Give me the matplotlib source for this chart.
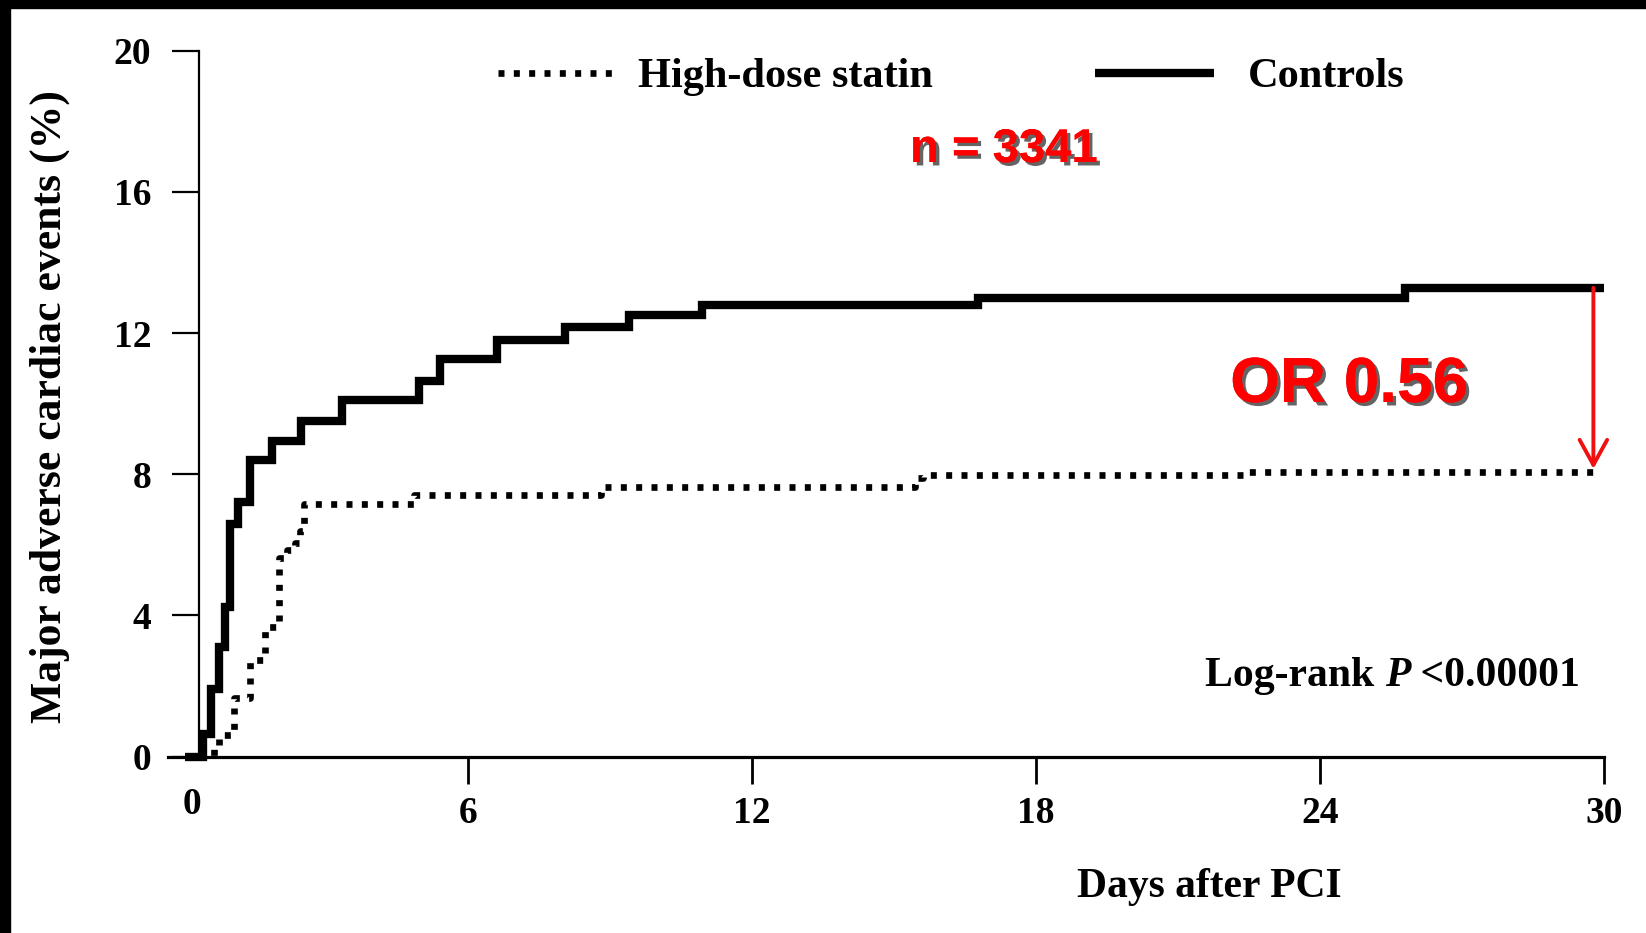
import matplotlib
matplotlib.use("Agg")
import matplotlib.pyplot as plt
from matplotlib.patches import Rectangle
import matplotlib.patheffects as pe

# ---------------- data ----------------
x_ticks = [6, 12, 18, 24, 30]
x_tick_labels = ["6", "12", "18", "24", "30"]
y_ticks = [0, 4, 8, 12, 16, 20]
y_tick_labels = ["0", "4", "8", "12", "16", "20"]

control_days = [0, 0.40, 0.55, 0.72, 0.86, 0.97, 1.14, 1.39, 1.85, 2.47, 3.33,
                4.95, 5.40, 6.60, 8.04, 9.39, 10.93, 16.78, 25.79, 30.0]
control_mace = [0, 0.64, 1.9, 3.1, 4.25, 6.6, 7.22, 8.4, 8.95, 9.5, 10.1,
                10.65, 11.25, 11.8, 12.16, 12.5, 12.8, 13.0, 13.28, 13.28]

statin_days = [0, 0.62, 0.72, 1.04, 1.39, 1.71, 1.99, 2.17, 2.34, 2.45, 2.52,
               4.86, 8.81, 15.44, 15.60, 22.5, 29.8]
statin_mace = [0, 0.25, 0.6, 1.67, 2.74, 3.66, 5.62, 5.86, 6.06, 6.4, 7.15,
               7.42, 7.65, 7.88, 7.98, 8.05, 8.05]

series_labels = ["High-dose statin", "Controls"]
n_text = "n = 3341"
or_text = "OR 0.56"
arrow_day = 29.78
arrow_from = 13.28
arrow_to = 8.15

W, H = 1646, 933
SERIF = "Liberation Serif"
SANS = "Liberation Sans"

fig = plt.figure(figsize=(W / 100, H / 100), dpi=100)
fig.patch.set_facecolor("white")

# black frame bands of the screenshot
fig.add_artist(Rectangle((0, 1 - 8 / H), 1, 8 / H, transform=fig.transFigure,
                         color="black", zorder=0))
fig.add_artist(Rectangle((0, 0), 10 / W, 1, transform=fig.transFigure,
                         color="black", zorder=0))

ax = fig.add_axes([168 / W, (H - 756.5) / H, (1603.8 - 168) / W, (756.5 - 50.7) / H])
ax.set_xlim(-0.35, 30)
ax.set_ylim(0, 20)
ax.patch.set_alpha(0)

lc, = ax.step(control_days, control_mace, where="post", color="black", lw=6.0,
              solid_capstyle="butt", solid_joinstyle="miter", clip_on=False,
              label=series_labels[1], zorder=3)
ls, = ax.step(statin_days, statin_mace, where="post", color="black", lw=4.8,
              dash_capstyle="butt", clip_on=False, label=series_labels[0], zorder=3)
ls.set_dashes((0.9, 1.4))

# spines
ax.spines["top"].set_visible(False)
ax.spines["right"].set_visible(False)
ax.spines["left"].set_position(("data", 0.31))
ax.spines["left"].set_bounds(0, 20)
ax.spines["left"].set_linewidth(1.6)
ax.spines["bottom"].set_linewidth(2.3)

ax.set_xticks(x_ticks)
ax.set_xticklabels(x_tick_labels)
ax.set_yticks(y_ticks)
ax.set_yticklabels(y_tick_labels)
ax.tick_params(axis="y", direction="out", length=19.5, width=1.6, pad=15,
               labelsize=27)
ax.tick_params(axis="x", direction="out", length=19.5, width=2, pad=9,
               labelsize=27)
for lab in ax.get_xticklabels() + ax.get_yticklabels():
    lab.set_family(SERIF)
    lab.set_fontweight("bold")

# "0" label at origin (sits slightly higher in the original)
fig.text(192 / W, 1 - 804 / H, "0", ha="center", va="center", fontsize=27,
         family=SERIF, weight="bold")

# axis labels
fig.text(50 / W, 1 - 407 / H, "Major adverse cardiac events (%)", rotation=90,
         ha="center", va="center", fontsize=31.5, family=SERIF, weight="bold")
fig.text(1209 / W, 1 - 887 / H, "Days after PCI", ha="center", va="center",
         fontsize=30, family=SERIF, weight="bold")

# legend (two entries placed separately)
legprop = {"family": SERIF, "weight": "bold", "size": 30.5}
leg1 = ax.legend(handles=[ls], labels=[series_labels[0]], loc="center left",
                 bbox_to_anchor=(498 / W, 1 - 77 / H), bbox_transform=fig.transFigure,
                 frameon=False, borderpad=0, borderaxespad=0, handlelength=2.75,
                 handletextpad=0.55, prop=legprop)
ax.add_artist(leg1)
leg2 = ax.legend(handles=[lc], labels=[series_labels[1]], loc="center left",
                 bbox_to_anchor=(1095 / W, 1 - 77 / H), bbox_transform=fig.transFigure,
                 frameon=False, borderpad=0, borderaxespad=0, handlelength=2.8,
                 handletextpad=0.8, prop=legprop)

# log-rank text
t1 = fig.text(1205 / W, 1 - 676 / H, "Log-rank ", ha="left", va="center",
              fontsize=30, family=SERIF, weight="bold")
t2 = ax.annotate("P", xy=(1, 0), xycoords=t1, ha="left", va="bottom",
                 fontsize=30, family=SERIF, weight="bold", style="italic")
t3 = ax.annotate(" <0.00001", xy=(1, 0), xycoords=t2, ha="left", va="bottom",
                 fontsize=30, family=SERIF, weight="bold")

# red annotations
shadow = [pe.withSimplePatchShadow(offset=(2.5, -2.5), shadow_rgbFace="#222222",
                                   alpha=0.7), pe.Normal()]
fig.text(1004 / W, 1 - 150 / H, n_text, ha="center", va="center", fontsize=34,
         family=SANS, weight="bold", color="#FF0000", path_effects=shadow)
fig.text(1349 / W, 1 - 385 / H, or_text, ha="center", va="center", fontsize=46,
         family=SANS, weight="bold", color="#FF0000", path_effects=shadow)

ax.annotate("", xy=(arrow_day, arrow_to), xytext=(arrow_day, arrow_from),
            arrowprops=dict(arrowstyle="->,head_length=0.4,head_width=0.22",
                            color="#F01010", lw=2.8, mutation_scale=45,
                            shrinkA=0, shrinkB=0), zorder=5)

fig.savefig("out.png", dpi=100, facecolor="white")
